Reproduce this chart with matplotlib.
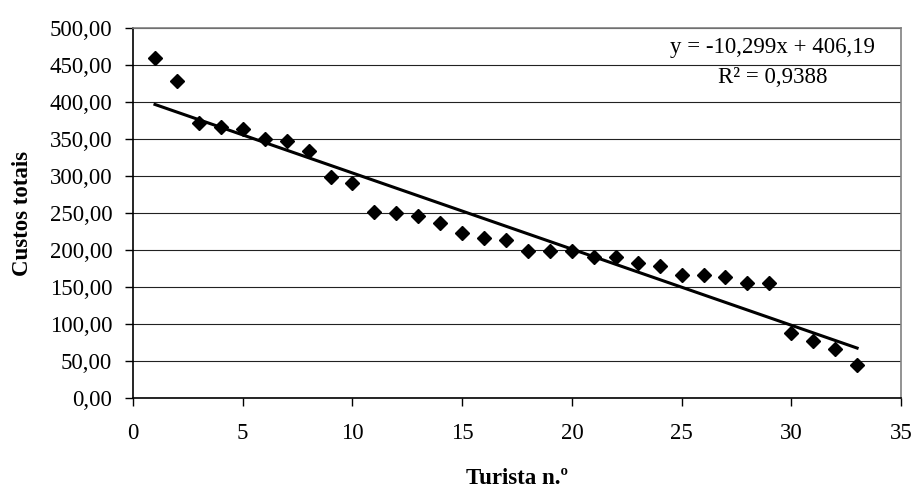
import numpy as np
import matplotlib.pyplot as plt
from matplotlib.ticker import FuncFormatter

plt.rcParams['font.family'] = ['Liberation Serif', 'DejaVu Serif']

# data
turista = list(range(1, 34))
custos = [460, 428, 372, 366, 363, 350, 347, 334, 298, 290,
          252, 250, 246, 236, 223, 216, 213, 198, 198, 198,
          190, 190, 182, 179, 166, 166, 163, 155, 155, 88,
          77, 66, 44]
eq_text = 'y = -10,299x + 406,19'
r2_text = 'R² = 0,9388'

x = np.array(turista)
y = np.array(custos)
slope, intercept = np.polyfit(x, y, 1)

fig = plt.figure(figsize=(9.15, 4.88), dpi=100)
ax = fig.add_axes([0.1454, 0.1844, 0.8393, 0.7582])

ax.set_xlim(0, 35)
ax.set_ylim(0, 500)
ax.set_xticks(range(0, 36, 5))
ax.set_yticks(range(0, 501, 50))
ax.yaxis.set_major_formatter(FuncFormatter(lambda v, p: f'{v:.2f}'.replace('.', ',')))

ax.grid(axis='y', color='#222222', linewidth=0.8)
ax.set_axisbelow(True)
for s in ['left', 'bottom']:
    ax.spines[s].set_color('black')
    ax.spines[s].set_linewidth(1.2)
for s in ['right', 'top']:
    ax.spines[s].set_color('#808080')
    ax.spines[s].set_linewidth(1.2)

ax.tick_params(axis='both', direction='out', length=6, width=1, labelsize=16.5, colors='black')
ax.tick_params(axis='y', pad=9)
ax.tick_params(axis='x', pad=12)

ax.plot(x, y, linestyle='none', marker='D', markersize=6.8, color='black', zorder=3)
ax.plot([x[0], x[-1]], [slope * x[0] + intercept, slope * x[-1] + intercept],
        color='black', linewidth=2.2, zorder=3)

ax.text(0.8327, 0.9486, eq_text, transform=ax.transAxes, ha='center', va='center', fontsize=16.5)
ax.text(0.8327, 0.865, r2_text, transform=ax.transAxes, ha='center', va='center', fontsize=16.5)

ax.set_xlabel('Turista n.º', fontsize=16.5, fontweight='bold')
ax.set_ylabel('Custos totais', fontsize=16.5, fontweight='bold')
ax.xaxis.set_label_coords(0.5, -0.19)
ax.yaxis.set_label_coords(-0.13, 0.5)

fig.savefig('out.png', dpi=100)
